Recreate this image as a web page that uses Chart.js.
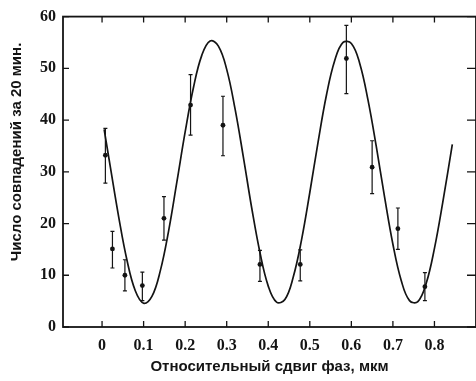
<!DOCTYPE html>
<html>
<head>
<meta charset="utf-8">
<script src="https://cdn.jsdelivr.net/npm/chart.js@4"></script>
<style>
  html, body { margin: 0; padding: 0; background: #fff; overflow: hidden; width: 476px; height: 381px; }
  #wrap { width: 480px; height: 381px; }
</style>
</head>
<body>
<div id="wrap"><canvas id="c" width="480" height="381"></canvas></div>
<script>
// Measured points (x = relative phase shift, µm; y = coincidences per 20 min)
const pointX  = [0.008, 0.025, 0.055, 0.097, 0.149, 0.213, 0.291, 0.380, 0.477, 0.588, 0.650, 0.712, 0.777];
const pointY  = [33.2, 15.1, 10.0, 8.0, 21.0, 42.9, 39.0, 12.1, 12.1, 51.9, 30.9, 19.0, 7.8];
const errHigh = [38.4, 18.5, 13.0, 10.6, 25.2, 48.8, 44.6, 14.8, 14.9, 58.3, 36.0, 23.0, 10.5];
const errLow  = [27.8, 11.4, 7.0, 5.1, 16.8, 37.1, 33.1, 8.8, 8.9, 45.1, 25.8, 15.0, 5.1];

// Fitted curve
const curveX = [0.005, 0.02, 0.04, 0.06, 0.08, 0.10, 0.12, 0.14, 0.16, 0.18, 0.20, 0.22, 0.24, 0.26, 0.28, 0.30,
                0.32, 0.34, 0.36, 0.38, 0.40, 0.42, 0.44, 0.46, 0.48, 0.50, 0.52, 0.54, 0.56, 0.58, 0.60,
                0.62, 0.64, 0.66, 0.68, 0.70, 0.72, 0.74, 0.76, 0.78, 0.80, 0.82, 0.843];
const curveY = [38.2, 30.9, 21.3, 12.9, 7.0, 4.6, 5.9, 10.8, 18.5, 28.0, 37.7, 46.3, 52.5, 55.3, 54.3, 49.8,
                42.2, 32.9, 23.1, 14.4, 7.9, 4.8, 5.3, 9.6, 16.8, 26.0, 35.8, 44.8, 51.5, 55.0, 54.8,
                51.0, 43.9, 34.9, 25.1, 16.0, 9.0, 5.1, 4.9, 8.4, 15.2, 24.1, 35.3];

const xTicks = [0, 0.1, 0.2, 0.3, 0.4, 0.5, 0.6, 0.7, 0.8];
const xTickLabels = ['0', '0.1', '0.2', '0.3', '0.4', '0.5', '0.6', '0.7', '0.8'];
const yTicks = [0, 10, 20, 30, 40, 50, 60];
const yTickLabels = ['0', '10', '20', '30', '40', '50', '60'];

const xTitle = 'Относительный сдвиг фаз, мкм';
const yTitle = 'Число совпадений за 20 мин.';

const INK = '#141414';

const framePlugin = {
  id: 'frame',
  afterDraw(chart) {
    const ctx = chart.ctx;
    const {left, right, top, bottom} = chart.chartArea;
    const xs = chart.scales.x, ys = chart.scales.y;
    ctx.save();
    ctx.strokeStyle = INK;
    ctx.lineWidth = 1.8;
    ctx.strokeRect(left, top, right - left, bottom - top);
    ctx.lineWidth = 1.3;
    ctx.beginPath();
    xTicks.forEach(v => {
      const px = xs.getPixelForValue(v);
      ctx.moveTo(px, bottom); ctx.lineTo(px, bottom - 6);
      ctx.moveTo(px, top); ctx.lineTo(px, top + 6);
    });
    yTicks.forEach(v => {
      const py = ys.getPixelForValue(v);
      ctx.moveTo(left, py); ctx.lineTo(left + 6, py);
      ctx.moveTo(right, py); ctx.lineTo(right - 9, py);
    });
    ctx.stroke();
    // y-axis title (rotated), positioned as in the reference
    ctx.fillStyle = INK;
    ctx.font = 'bold 15px "Liberation Sans"';
    ctx.textAlign = 'center';
    ctx.textBaseline = 'middle';
    ctx.translate(17, 152);
    ctx.rotate(-Math.PI / 2);
    ctx.fillText(yTitle, 0, 0);
    ctx.restore();
  }
};

const errorBarPlugin = {
  id: 'errorBars',
  afterDatasetsDraw(chart) {
    const ctx = chart.ctx;
    const xs = chart.scales.x, ys = chart.scales.y;
    ctx.save();
    ctx.strokeStyle = INK;
    ctx.lineWidth = 1.2;
    ctx.beginPath();
    pointX.forEach((xv, i) => {
      const px = xs.getPixelForValue(xv);
      const yh = ys.getPixelForValue(errHigh[i]);
      const yl = ys.getPixelForValue(errLow[i]);
      ctx.moveTo(px, yh); ctx.lineTo(px, yl);
      ctx.moveTo(px - 2, yh); ctx.lineTo(px + 2, yh);
      ctx.moveTo(px - 2, yl); ctx.lineTo(px + 2, yl);
    });
    ctx.stroke();
    ctx.restore();
  }
};

new Chart(document.getElementById('c'), {
  type: 'scatter',
  data: {
    datasets: [
      {
        type: 'line',
        data: curveX.map((x, i) => ({x, y: curveY[i]})),
        borderColor: INK,
        borderWidth: 1.7,
        pointRadius: 0,
        tension: 0.4,
        fill: false
      },
      {
        data: pointX.map((x, i) => ({x, y: pointY[i]})),
        backgroundColor: INK,
        borderColor: INK,
        pointRadius: 2.4,
        borderWidth: 0
      }
    ]
  },
  options: {
    responsive: false,
    animation: false,
    devicePixelRatio: 1,
    layout: { padding: { top: 13, right: 3, left: 0, bottom: 0 } },
    plugins: { legend: { display: false }, tooltip: { enabled: false } },
    scales: {
      x: {
        type: 'linear',
        min: -0.094,
        max: 0.9,
        grid: { display: false, drawTicks: false },
        border: { display: false },
        afterBuildTicks: s => { s.ticks = xTicks.map(v => ({value: v})); },
        afterFit: s => { s.height = 54; },
        ticks: {
          color: INK,
          padding: 9,
          maxRotation: 0,
          autoSkip: false,
          font: { family: 'Liberation Serif', size: 16, weight: 'bold' },
          callback: (v, i) => xTickLabels[i]
        },
        title: {
          display: true,
          text: xTitle,
          color: INK,
          font: { family: 'Liberation Sans', size: 15, weight: 'bold' },
          padding: { top: 0, bottom: 5 }
        }
      },
      y: {
        min: 0,
        max: 60,
        grid: { display: false, drawTicks: false },
        border: { display: false },
        afterBuildTicks: s => { s.ticks = yTicks.map(v => ({value: v})); },
        afterFit: s => { s.width = 63; },
        ticks: {
          color: INK,
          padding: 7,
          autoSkip: false,
          font: { family: 'Liberation Serif', size: 16, weight: 'bold' },
          callback: (v, i) => yTickLabels[i]
        },
        title: { display: false }
      }
    }
  },
  plugins: [framePlugin, errorBarPlugin]
});
</script>
</body>
</html>
